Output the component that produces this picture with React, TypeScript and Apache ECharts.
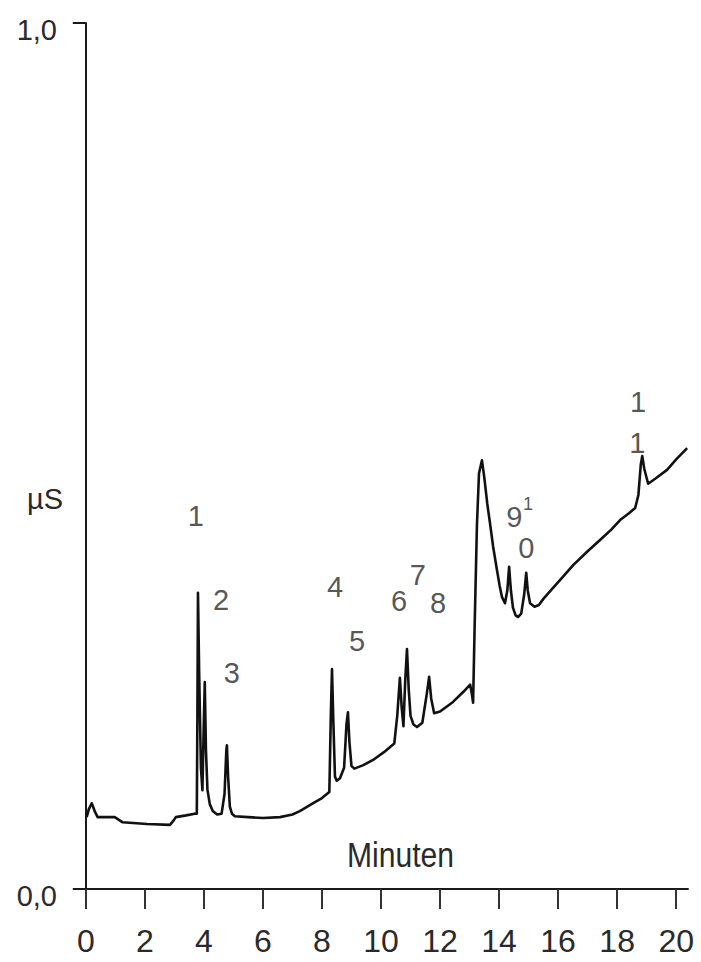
import React, { useEffect, useRef } from "react";
import * as echarts from "echarts";

// Chromatogram trace: time (minutes) and conductivity (µS, relative)
const times = [
  0.03, 0.1, 0.2, 0.3, 0.4, 0.98, 1.25, 2.07, 2.85, 2.95, 3.05, 3.4, 3.69, 3.76, 3.78, 3.8, 3.84,
  3.9, 3.95, 3.99, 4.03, 4.07, 4.12, 4.2, 4.3, 4.45, 4.6, 4.7, 4.76, 4.78, 4.82, 4.88, 4.95, 5.05,
  5.5, 6.0, 6.58, 7.0, 7.25, 7.69, 8.0, 8.25, 8.3, 8.34, 8.38, 8.44, 8.5, 8.61, 8.75, 8.83, 8.88,
  8.93, 9.0, 9.1, 9.4, 9.73, 10.1, 10.45, 10.55, 10.64, 10.7, 10.76, 10.82, 10.88, 10.94, 11.0,
  11.1, 11.22, 11.4, 11.55, 11.63, 11.7, 11.8, 12.0, 12.44, 12.8, 13.02, 13.08, 13.12, 13.17,
  13.25, 13.32, 13.42, 13.5, 13.6, 13.69, 13.8, 13.93, 14.02, 14.1, 14.2, 14.28, 14.34, 14.4,
  14.47, 14.56, 14.64, 14.75, 14.85, 14.92, 14.97, 15.05, 15.2, 15.35, 15.5, 15.73, 16.1, 16.51,
  17.0, 17.42, 17.8, 18.1, 18.4, 18.61, 18.72, 18.8, 18.85, 18.92, 19.05, 19.3, 19.69, 20.0, 20.37,
];
const values = [
  0.083, 0.092, 0.099, 0.09, 0.083, 0.083, 0.077, 0.075, 0.074, 0.078, 0.083, 0.085, 0.087, 0.087,
  0.2, 0.342, 0.25, 0.14, 0.114, 0.18, 0.239, 0.16, 0.115, 0.098, 0.09, 0.086, 0.087, 0.11, 0.16,
  0.166, 0.13, 0.095, 0.087, 0.084, 0.083, 0.082, 0.083, 0.086, 0.09, 0.099, 0.105, 0.112, 0.2,
  0.254, 0.2, 0.13, 0.125, 0.128, 0.14, 0.19, 0.204, 0.17, 0.142, 0.139, 0.143, 0.149, 0.158,
  0.168, 0.2, 0.244, 0.21, 0.188, 0.24, 0.277, 0.23, 0.2, 0.19, 0.187, 0.192, 0.225, 0.245, 0.22,
  0.203, 0.205, 0.216, 0.228, 0.236, 0.225, 0.215, 0.3, 0.42, 0.48, 0.495, 0.475, 0.445, 0.423,
  0.395, 0.368, 0.35, 0.337, 0.33, 0.345, 0.372, 0.345, 0.325, 0.316, 0.314, 0.318, 0.34, 0.365,
  0.345, 0.33, 0.326, 0.328, 0.335, 0.344, 0.358, 0.374, 0.39, 0.403, 0.415, 0.426, 0.434, 0.44,
  0.455, 0.49, 0.5, 0.485, 0.468, 0.474, 0.484, 0.496, 0.509,
];

// Peak labels: text, time, value
const peakTexts = ["1", "2", "3", "4", "5", "6", "7", "8", "9", "1", "0", "1", "1"];
const peakTimes = [3.73, 4.58, 4.95, 8.44, 9.19, 10.61, 11.25, 11.93, 14.52, 14.98, 14.92, 18.71, 18.68];
const peakValues = [0.431, 0.334, 0.249, 0.349, 0.286, 0.333, 0.363, 0.33, 0.43, 0.445, 0.394, 0.562, 0.515];
const peakSmall = [false, false, false, false, false, false, false, false, false, true, false, false, false];

const xTicks = [0, 2, 4, 6, 8, 10, 12, 14, 16, 18, 20];
const yTicks = [0, 1];
const yTickLabels = ["0,0", "1,0"];

const yUnit = "µS";
const xTitle = "Minuten";

export default function App() {
  const ref = useRef<HTMLDivElement>(null);
  useEffect(() => {
    if (!ref.current) return;
    const chart = echarts.init(ref.current, null, { renderer: "svg" });
    const regular = "'Liberation Sans', Arial, sans-serif";
    chart.setOption({
      animation: false,
      backgroundColor: "#ffffff",
      grid: { left: 74, right: 13, top: 23, bottom: 73, containLabel: false },
      xAxis: [
        {
          type: "value",
          min: -0.4,
          max: 20.4,
          position: "bottom",
          axisLine: { show: true, onZero: false, lineStyle: { color: "#1a1a1a", width: 2 } },
          axisTick: { show: false },
          axisLabel: { show: false },
          splitLine: { show: false },
        },
        {
          type: "value",
          min: -0.4,
          max: 20.4,
          position: "bottom",
          offset: 4,
          axisLine: { show: false },
          axisTick: {
            show: true,
            length: 20,
            customValues: xTicks,
            lineStyle: { color: "#333", width: 2 },
          },
          axisLabel: {
            show: true,
            customValues: xTicks,
            margin: 32,
            fontSize: 32,
            fontFamily: regular,
            color: "#2a2a2a",
            formatter: (v: number) => String(Math.round(v)),
          },
          splitLine: { show: false },
        },
      ],
      yAxis: {
        type: "value",
        min: 0,
        max: 1,
        interval: 1,
        axisLine: { show: true, onZero: true, lineStyle: { color: "#1a1a1a", width: 2 } },
        axisTick: { show: true, length: 13, lineStyle: { color: "#1a1a1a", width: 2 } },
        axisLabel: {
          show: true,
          margin: 17,
          fontSize: 29,
          fontFamily: regular,
          color: "#2a2a2a",
          verticalAlign: "top",
          lineHeight: 13,
          customValues: yTicks,
          formatter: (v: number) => yTickLabels[yTicks.indexOf(v)] ?? "",
        },
        splitLine: { show: false },
      },
      series: [
        {
          type: "line",
          xAxisIndex: 0,
          data: times.map((t, i) => [t, values[i]]),
          showSymbol: false,
          symbol: "none",
          lineStyle: { color: "#111", width: 2.6, join: "round" },
          smooth: false,
          clip: false,
          z: 3,
        },
        {
          type: "scatter",
          xAxisIndex: 0,
          symbolSize: 0,
          silent: true,
          data: peakTimes.map((t, i) => ({
            value: [t, peakValues[i]],
            label: {
              show: true,
              position: "inside",
              formatter: peakTexts[i],
              fontSize: peakSmall[i] ? 18 : 29,
              fontFamily: regular,
              color: "#2a2a2a",
            },
          })),
          z: 4,
        },
      ],
      graphic: [
        {
          type: "text",
          left: 27,
          top: 484,
          style: { text: yUnit, fontSize: 29, fontFamily: regular, fill: "#2a2a2a" },
        },
        {
          type: "text",
          x: 347,
          y: 837,
          scaleX: 0.86,
          style: { text: xTitle, fontSize: 35, fontFamily: regular, fill: "#2a2a2a" },
        },
      ],
    });
    return () => chart.dispose();
  }, []);
  return (
    <div
      ref={ref}
      style={{ position: "fixed", left: 0, top: 0, width: 701, height: 962, background: "#fff" }}
    />
  );
}
